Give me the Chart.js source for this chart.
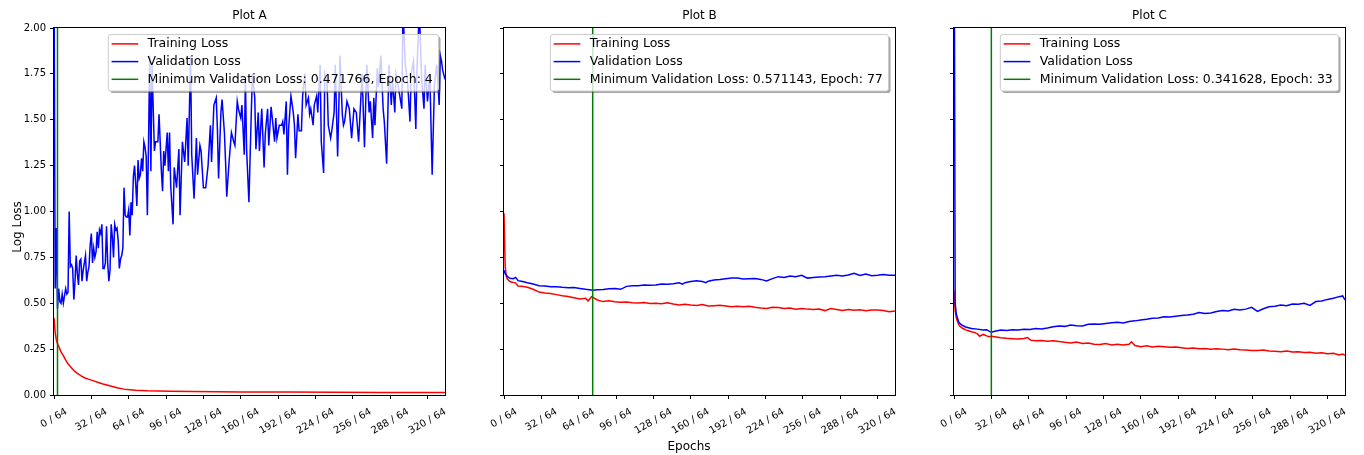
<!DOCTYPE html>
<html>
<head>
<meta charset="utf-8">
<title>Loss curves</title>
<script src="https://cdn.jsdelivr.net/npm/chart.js@4.4.1/dist/chart.umd.min.js"></script>
<style>
  html, body { margin: 0; padding: 0; background: #fff; }
  #wrap { position: relative; width: 1364px; height: 455px; overflow: hidden; }
  canvas { position: absolute; top: 0; }
</style>
</head>
<body>
<div id="wrap">
  <canvas id="plotA" width="455" height="455" style="left:0px"></canvas>
  <canvas id="plotB" width="450" height="455" style="left:455px"></canvas>
  <canvas id="plotC" width="459" height="455" style="left:905px"></canvas>
</div>
<script>
// ---- data ----
const xTickValues = [0, 32, 64, 96, 128, 160, 192, 224, 256, 288, 320];
const xTickLabels = ['0 / 64', '32 / 64', '64 / 64', '96 / 64', '128 / 64', '160 / 64',
                     '192 / 64', '224 / 64', '256 / 64', '288 / 64', '320 / 64'];
const yTickValues = [0, 0.25, 0.5, 0.75, 1, 1.25, 1.5, 1.75, 2];
const yTickLabels = ['0.00', '0.25', '0.50', '0.75', '1.00', '1.25', '1.50', '1.75', '2.00'];

const plotTitles = ['Plot A', 'Plot B', 'Plot C'];
const minValLoss = [0.471766, 0.571143, 0.341628];
const minValEpoch = [4, 77, 33];   // 1-based, as printed in the legend

// Plot A
const trainEpochsA = [0, 1, 2, 3, 4, 5, 6, 8, 10, 12, 14, 16, 18, 20, 23, 26, 30, 34, 38, 42, 46, 50,
  55, 60, 65, 70, 80, 90, 100, 120, 140, 160, 180, 200, 240, 280, 335];
const trainLossA = [0.42, 0.34, 0.30, 0.28, 0.265, 0.25, 0.235, 0.215, 0.19, 0.17, 0.155, 0.14, 0.127,
  0.118, 0.105, 0.094, 0.085, 0.077, 0.068, 0.06, 0.053, 0.046, 0.038, 0.032, 0.029, 0.026, 0.023,
  0.022, 0.021, 0.019, 0.018, 0.017, 0.016, 0.016, 0.015, 0.014, 0.014];
const validEpochsA = [0, 1, 2, 3, 4, 5, 6, 7, 8, 9, 10, 11, 12, 13, 14, 15, 16, 17, 18, 19, 20, 21, 22,
  23, 24, 25, 26, 27, 28, 29, 30, 31, 32, 33, 34, 35, 36, 37, 38, 39, 40, 41, 42, 43, 44, 45, 46, 47,
  48, 49, 50, 51, 52, 53, 54, 55, 56, 57, 58, 59, 60, 61, 62, 63, 64, 65, 66, 67, 68, 69, 70, 71, 72,
  73, 74, 75, 76, 77, 78, 79, 80, 81, 82, 83, 84, 86, 87, 89, 90, 92, 93, 94, 95, 97, 98, 99, 100,
  102, 103, 105, 107, 108, 110, 112, 114, 115, 117, 118, 120, 122, 123, 125, 126, 128, 130, 132, 134,
  135, 137, 139, 140, 141, 143, 144, 146, 147, 148, 150, 152, 154, 155, 157, 158, 160, 161, 163, 164,
  165, 167, 169, 170, 172, 173, 175, 176, 178, 180, 181, 183, 184, 186, 187, 189, 190, 191, 193, 195,
  196, 197, 199, 200, 201, 203, 205, 206, 207, 209, 210, 212, 213, 215, 216, 218, 219, 220, 222, 223,
  225, 226, 228, 229, 231, 232, 234, 235, 237, 238, 240, 241, 243, 244, 245, 247, 248, 249, 251, 253,
  255, 257, 259, 261, 263, 264, 266, 268, 270, 271, 273, 274, 275, 277, 278, 280, 282, 283, 285, 287,
  289, 290, 292, 293, 295, 298, 299, 301, 303, 305, 306, 308, 310, 311, 313, 315, 317, 318, 320, 322,
  324, 326, 328, 330, 331, 332, 333, 335];
const validLossA = [2.40, 0.58, 0.91, 0.47, 0.58, 0.51, 0.50, 0.55, 0.50, 0.54, 0.58, 0.55, 0.56, 1.00,
  0.70, 0.71, 0.69, 0.52, 0.62, 0.76, 0.66, 0.60, 0.73, 0.74, 0.62, 0.68, 0.72, 0.76, 0.62, 0.67, 0.70,
  0.82, 0.88, 0.72, 0.80, 0.75, 0.78, 0.89, 0.80, 0.90, 0.88, 0.93, 0.69, 0.69, 0.72, 0.92, 0.72, 0.62,
  0.68, 0.93, 0.86, 0.75, 0.93, 0.90, 0.91, 0.84, 0.69, 0.74, 0.76, 0.80, 1.13, 0.98, 0.97, 0.97, 1.01,
  0.87, 1.05, 0.98, 1.19, 1.25, 1.15, 1.03, 1.28, 1.18, 1.20, 1.29, 1.22, 1.38, 1.35, 1.30, 0.98, 1.38,
  1.85, 1.22, 1.80, 1.33, 1.38, 1.38, 1.53, 1.22, 1.11, 1.33, 1.25, 1.43, 1.22, 1.43, 1.14, 0.93, 1.24,
  1.13, 1.34, 0.98, 1.38, 1.27, 1.51, 1.25, 1.85, 1.31, 1.07, 1.40, 1.20, 1.36, 1.33, 1.13, 1.13, 1.25,
  1.47, 1.27, 1.58, 1.62, 1.45, 1.18, 1.54, 1.61, 1.43, 1.27, 1.08, 1.27, 1.43, 1.38, 1.36, 1.60, 1.56,
  1.51, 1.58, 1.31, 1.72, 1.34, 1.05, 1.53, 1.75, 1.62, 1.34, 1.54, 1.33, 1.56, 1.24, 1.42, 1.56, 1.36,
  1.57, 1.51, 1.38, 1.51, 1.40, 1.47, 1.47, 1.49, 1.42, 1.60, 1.20, 1.45, 1.63, 1.54, 1.47, 1.29, 1.53,
  1.44, 1.44, 1.63, 1.75, 1.58, 1.62, 1.53, 1.56, 1.47, 1.58, 1.63, 1.54, 1.80, 1.38, 1.21, 1.75, 1.70,
  1.47, 1.40, 1.44, 1.54, 1.80, 1.30, 1.56, 1.85, 1.53, 1.47, 1.49, 1.60, 1.56, 1.40, 1.56, 1.54, 1.38,
  1.63, 1.75, 1.35, 1.80, 1.54, 1.60, 1.40, 1.62, 1.47, 1.78, 1.68, 1.85, 1.56, 1.49, 1.26, 1.80, 1.58,
  1.72, 1.54, 1.75, 1.68, 1.56, 2.10, 1.80, 1.70, 1.49, 1.75, 1.82, 1.45, 1.78, 2.10, 1.72, 1.56, 1.80,
  1.60, 1.75, 1.20, 1.70, 1.80, 1.58, 1.85, 1.82, 1.77, 1.72];

// Plot B
const trainEpochsB = [0, 1, 2, 3, 4, 5, 7, 10, 12, 15, 20, 25, 30, 35, 40, 45, 50, 55, 60, 65, 70, 72,
  75, 80, 85, 90, 95, 100, 105, 110, 115, 120, 125, 130, 135, 140, 145, 150, 155, 160, 165, 170, 175,
  180, 185, 190, 195, 200, 205, 210, 215, 220, 225, 230, 235, 240, 245, 250, 255, 260, 265, 270, 275,
  280, 285, 290, 295, 300, 305, 310, 315, 320, 325, 330, 335];
const trainLossB = [0.99, 0.70, 0.645, 0.63, 0.625, 0.618, 0.615, 0.61, 0.594, 0.592, 0.587, 0.576,
  0.561, 0.556, 0.553, 0.547, 0.541, 0.537, 0.530, 0.523, 0.527, 0.512, 0.536, 0.518, 0.509, 0.514,
  0.508, 0.506, 0.507, 0.503, 0.502, 0.504, 0.499, 0.500, 0.497, 0.503, 0.496, 0.490, 0.495, 0.490,
  0.488, 0.493, 0.485, 0.487, 0.489, 0.485, 0.481, 0.484, 0.481, 0.484, 0.478, 0.474, 0.472, 0.478,
  0.477, 0.472, 0.474, 0.467, 0.472, 0.468, 0.466, 0.469, 0.460, 0.471, 0.466, 0.460, 0.466, 0.462,
  0.465, 0.459, 0.463, 0.463, 0.461, 0.454, 0.458];
const validEpochsB = [0, 1, 2, 3, 5, 8, 10, 12, 15, 20, 25, 30, 35, 40, 45, 50, 55, 60, 65, 70, 73, 76,
  80, 85, 90, 95, 100, 105, 110, 115, 120, 125, 130, 135, 140, 145, 150, 153, 155, 160, 165, 170, 173,
  175, 180, 185, 190, 195, 200, 205, 210, 215, 220, 225, 230, 235, 240, 245, 250, 255, 260, 265, 270,
  275, 280, 285, 290, 295, 300, 305, 310, 315, 320, 325, 330, 335];
const validLossB = [0.68, 0.66, 0.654, 0.645, 0.636, 0.634, 0.641, 0.623, 0.620, 0.612, 0.605, 0.596,
  0.594, 0.590, 0.590, 0.587, 0.585, 0.586, 0.581, 0.576, 0.574, 0.571, 0.574, 0.575, 0.579, 0.580,
  0.576, 0.592, 0.595, 0.596, 0.599, 0.598, 0.600, 0.605, 0.603, 0.606, 0.612, 0.604, 0.612, 0.618,
  0.623, 0.618, 0.612, 0.620, 0.627, 0.630, 0.634, 0.638, 0.637, 0.632, 0.634, 0.635, 0.630, 0.622,
  0.634, 0.645, 0.641, 0.648, 0.645, 0.652, 0.637, 0.640, 0.643, 0.645, 0.649, 0.652, 0.648, 0.654,
  0.663, 0.652, 0.659, 0.650, 0.652, 0.656, 0.653, 0.652];

// Plot C
const trainEpochsC = [0, 1, 2, 3, 4, 5, 7, 10, 13, 15, 18, 20, 22, 25, 28, 30, 32, 35, 40, 45, 50, 55,
  60, 63, 66, 70, 75, 80, 85, 90, 95, 100, 105, 110, 115, 120, 125, 130, 135, 140, 145, 150, 152, 155,
  160, 165, 170, 175, 180, 185, 190, 195, 200, 205, 210, 215, 220, 225, 230, 235, 240, 245, 250, 255,
  260, 265, 270, 275, 280, 285, 290, 295, 300, 305, 310, 315, 320, 325, 330, 333, 335];
const trainLossC = [0.57, 0.46, 0.42, 0.40, 0.385, 0.375, 0.365, 0.355, 0.349, 0.345, 0.340, 0.333,
  0.320, 0.330, 0.322, 0.318, 0.320, 0.318, 0.312, 0.309, 0.307, 0.305, 0.308, 0.313, 0.298, 0.295,
  0.297, 0.293, 0.296, 0.291, 0.287, 0.284, 0.289, 0.281, 0.283, 0.277, 0.275, 0.280, 0.273, 0.276,
  0.272, 0.276, 0.290, 0.270, 0.263, 0.268, 0.262, 0.266, 0.263, 0.260, 0.262, 0.258, 0.254, 0.256,
  0.252, 0.254, 0.249, 0.252, 0.250, 0.246, 0.251, 0.247, 0.245, 0.243, 0.242, 0.245, 0.240, 0.238,
  0.236, 0.240, 0.234, 0.236, 0.231, 0.233, 0.228, 0.230, 0.225, 0.227, 0.218, 0.223, 0.216];
const validEpochsC = [0, 1, 2, 3, 4, 5, 7, 10, 15, 20, 25, 28, 30, 32, 35, 40, 45, 50, 55, 60, 65, 70,
  75, 80, 85, 90, 95, 100, 105, 110, 115, 120, 125, 130, 135, 140, 145, 150, 155, 160, 165, 170, 175,
  180, 185, 190, 195, 200, 205, 210, 215, 220, 225, 230, 235, 240, 245, 250, 255, 260, 265, 270, 275,
  280, 285, 290, 295, 300, 305, 310, 315, 320, 325, 330, 333, 335];
const validLossC = [3.0, 0.50, 0.44, 0.42, 0.398, 0.39, 0.38, 0.371, 0.362, 0.359, 0.354, 0.356, 0.348,
  0.342, 0.347, 0.354, 0.351, 0.356, 0.354, 0.358, 0.357, 0.363, 0.360, 0.365, 0.372, 0.376, 0.374,
  0.381, 0.378, 0.376, 0.385, 0.387, 0.385, 0.390, 0.394, 0.396, 0.393, 0.400, 0.404, 0.409, 0.413,
  0.418, 0.420, 0.427, 0.425, 0.429, 0.433, 0.436, 0.440, 0.449, 0.444, 0.447, 0.455, 0.460, 0.458,
  0.467, 0.463, 0.468, 0.478, 0.456, 0.470, 0.481, 0.484, 0.490, 0.487, 0.496, 0.494, 0.500, 0.488,
  0.509, 0.512, 0.521, 0.527, 0.536, 0.540, 0.518];

// ---- drawing ----
Chart.defaults.font.family = "'DejaVu Sans', sans-serif";
Chart.defaults.color = '#000';

const LEGEND_FONT = "12.5px 'DejaVu Sans', sans-serif";
const TICK_FONT = "10px 'DejaVu Sans', sans-serif";
const LABEL_FONT = "12px 'DejaVu Sans', sans-serif";

function drawLegend(chart) {
  const { ctx, chartArea } = chart;
  const items = chart.data.datasets;
  ctx.save();
  ctx.font = LEGEND_FONT;
  const textW = Math.max(...items.map(d => ctx.measureText(d.label).width));
  const w = textW + 45, h = 56.5;
  const x = chartArea.right - 6.5 - w, y = chartArea.top + 6.5;

  // shadow only outside the (semi transparent) frame
  ctx.save();
  ctx.beginPath();
  ctx.rect(0, 0, chart.width, chart.height);
  ctx.roundRect(x, y, w, h, 2.5);
  ctx.clip('evenodd');
  ctx.fillStyle = 'rgba(77,77,77,0.5)';
  ctx.beginPath();
  ctx.roundRect(x + 2, y + 2, w, h, 2.5);
  ctx.fill();
  ctx.restore();

  ctx.beginPath();
  ctx.roundRect(x, y, w, h, 2.5);
  ctx.fillStyle = 'rgba(255,255,255,0.8)';
  ctx.fill();
  ctx.strokeStyle = '#cccccc';
  ctx.lineWidth = 1;
  ctx.stroke();

  ctx.textBaseline = 'middle';
  items.forEach((d, i) => {
    const cy = y + 9.4 + i * 17.7;
    ctx.strokeStyle = d.borderColor;
    ctx.lineWidth = 1.5;
    ctx.beginPath();
    ctx.moveTo(x + 3.3, cy);
    ctx.lineTo(x + 30, cy);
    ctx.stroke();
    ctx.fillStyle = '#000';
    ctx.fillText(d.label, x + 39.3, cy);
  });
  ctx.restore();
}

const panelDecor = {
  id: 'panelDecor',
  afterDatasetsDraw(chart) {
    drawLegend(chart);
  },
  afterDraw(chart, args, opts) {
    const { ctx, chartArea } = chart;
    ctx.save();
    // axes box
    ctx.strokeStyle = '#000';
    ctx.lineWidth = 1;
    ctx.strokeRect(Math.round(chartArea.left) - 0.5, Math.round(chartArea.top) - 0.5,
      Math.round(chartArea.right - chartArea.left) + 1, Math.round(chartArea.bottom - chartArea.top) + 1);

    // rotated x tick labels, centred under each tick
    const xs = chart.scales.x;
    const ang = 30 * Math.PI / 180;
    ctx.font = TICK_FONT;
    ctx.fillStyle = '#000';
    ctx.textAlign = 'center';
    ctx.textBaseline = 'middle';
    xTickValues.forEach((v, i) => {
      const text = xTickLabels[i];
      const tw = ctx.measureText(text).width;
      const bh = tw * Math.sin(ang) + 11.6 * Math.cos(ang);
      ctx.save();
      ctx.translate(xs.getPixelForValue(v), xs.top + 11 + bh / 2);
      ctx.rotate(-ang);
      ctx.fillText(text, 0, 0);
      ctx.restore();
    });

    // figure level labels
    ctx.font = LABEL_FONT;
    (opts.labels || []).forEach(l => {
      ctx.save();
      ctx.translate(l.x, l.y);
      ctx.rotate(l.rot * Math.PI / 180);
      ctx.fillText(l.text, 0, 0);
      ctx.restore();
    });
    ctx.restore();
  }
};

function makePlot(id, k, train, valid, panel) {
  const pts = (ex, ys) => ex.map((e, i) => ({ x: e, y: ys[i] }));
  const vx = minValEpoch[k] - 1;
  const tickGrid = { display: true, drawOnChartArea: false, drawTicks: true, tickLength: 4,
                     tickWidth: 1, tickColor: '#000', color: '#000' };
  return new Chart(document.getElementById(id), {
    type: 'line',
    data: {
      datasets: [
        { label: 'Training Loss', data: pts(train[0], train[1]), borderColor: '#ff0000', order: 3, clip: 0 },
        { label: 'Validation Loss', data: pts(valid[0], valid[1]), borderColor: '#0000ff', order: 2, clip: 0 },
        { label: `Minimum Validation Loss: ${minValLoss[k].toFixed(6)}, Epoch: ${minValEpoch[k]}`,
          data: [{ x: vx, y: 0 }, { x: vx, y: 2 }], borderColor: '#008000', order: 1, clip: 0 }
      ]
    },
    options: {
      responsive: false,
      animation: false,
      devicePixelRatio: 1,
      layout: { padding: { left: 0, right: panel.padRight, top: 0, bottom: 0 } },
      elements: {
        line: { borderWidth: 1.5, tension: 0, fill: false },
        point: { radius: 0, hoverRadius: 0 }
      },
      scales: {
        x: {
          type: 'linear', min: 0, max: 335,
          afterBuildTicks: s => { s.ticks = xTickValues.map(v => ({ value: v })); },
          ticks: { display: false },
          grid: tickGrid,
          border: { display: false },
          afterFit: s => { s.height = 60; }
        },
        y: {
          type: 'linear', min: 0, max: 2,
          afterBuildTicks: s => { s.ticks = yTickValues.map(v => ({ value: v })); },
          ticks: { display: panel.yLabels, callback: (v, i) => yTickLabels[i],
                   font: { size: 10 }, color: '#000', padding: 4 },
          grid: tickGrid,
          border: { display: false },
          afterFit: s => { s.width = panel.yWidth; }
        }
      },
      plugins: {
        legend: { display: false },
        tooltip: { enabled: false },
        title: { display: true, text: plotTitles[k], fullSize: false, color: '#000',
                 font: { size: 12, weight: 'normal' }, padding: { top: 9, bottom: 4.6 } },
        panelDecor: { labels: panel.labels }
      }
    },
    plugins: [panelDecor]
  });
}

makePlot('plotA', 0, [trainEpochsA, trainLossA], [validEpochsA, validLossA],
  { padRight: 10, yWidth: 54, yLabels: true, labels: [{ text: 'Log Loss', x: 18.3, y: 227, rot: -90 }] });
makePlot('plotB', 1, [trainEpochsB, trainLossB], [validEpochsB, validLossB],
  { padRight: 10, yWidth: 49, yLabels: false, labels: [{ text: 'Epochs', x: 234, y: 446.7, rot: 0 }] });
makePlot('plotC', 2, [trainEpochsC, trainLossC], [validEpochsC, validLossC],
  { padRight: 19, yWidth: 49, yLabels: false, labels: [] });
</script>
</body>
</html>
